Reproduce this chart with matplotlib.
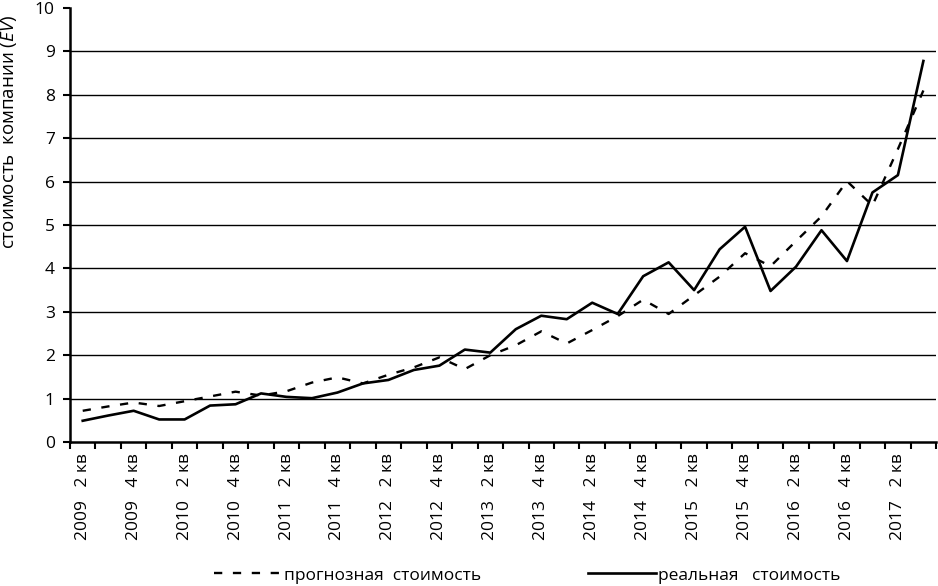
import numpy as np
import matplotlib
matplotlib.use('Agg')
import matplotlib.pyplot as plt

plt.rcParams['font.family'] = ['Open Sans', 'DejaVu Sans']
plt.rcParams['mathtext.fontset'] = 'custom'
plt.rcParams['mathtext.rm'] = 'Open Sans'
plt.rcParams['mathtext.it'] = 'Open Sans:italic'

# квартальные данные 2009 2 кв - 2017 3 кв
real = [0.49, 0.61, 0.72, 0.52, 0.52, 0.84, 0.87, 1.12, 1.04, 1.01, 1.14, 1.35,
        1.43, 1.66, 1.76, 2.13, 2.06, 2.60, 2.91, 2.83, 3.21, 2.95, 3.82, 4.14,
        3.50, 4.44, 4.96, 3.48, 4.04, 4.88, 4.17, 5.75, 6.15, 8.78]
forecast = [0.72, 0.82, 0.91, 0.83, 0.94, 1.05, 1.16, 1.07, 1.17, 1.37, 1.49, 1.35,
            1.55, 1.72, 1.95, 1.68, 2.00, 2.23, 2.55, 2.27, 2.58, 2.90, 3.28, 2.95,
            3.38, 3.81, 4.35, 4.05, 4.63, 5.20, 6.01, 5.45, 6.75, 8.10]
tick_labels = ['2009   2 кв', '2009   4 кв', '2010   2 кв', '2010   4 кв',
               '2011   2 кв', '2011   4 кв', '2012   2 кв', '2012   4 кв',
               '2013   2 кв', '2013   4 кв', '2014   2 кв', '2014   4 кв',
               '2015   2 кв', '2015   4 кв', '2016   2 кв', '2016   4 кв',
               '2017   2 кв']

n = len(real)
x = np.arange(n)

fig = plt.figure(figsize=(9.38, 5.86), dpi=100)
ax = fig.add_axes([0.0746, 0.2457, 0.9234, 0.7406])

ax.plot(x, forecast, color='black', lw=1.7, linestyle=(0, (3.5, 4.5)),
        label='прогнозная  стоимость')
ax.plot(x, real, color='black', lw=1.9, label='реальная   стоимость')

ax.set_xlim(-0.5, n - 0.5)
ax.set_ylim(0, 10)
ax.set_yticks(range(0, 11))
for yv in range(1, 10):
    ax.axhline(yv, color='black', lw=1.0, zorder=0)

ax.set_xticks(x[::2])
ax.set_xticklabels(tick_labels, rotation=90, fontsize=12.5)
ax.set_xticks(np.arange(-0.5, n, 1), minor=True)
ax.tick_params(axis='x', which='major', length=0, pad=8)
ax.tick_params(axis='x', which='minor', length=5, width=1.5, direction='out')
ax.tick_params(axis='y', length=5, width=1.5, labelsize=12.5, pad=6)

for s in ['top', 'right']:
    ax.spines[s].set_visible(False)
for s in ['left', 'bottom']:
    ax.spines[s].set_linewidth(1.8)

fig.text(0.010, 0.775, r'стоимость  компании ($\it{EV}$)', rotation=90,
         ha='center', va='center', fontsize=13.5)

fig.legend(loc='center', bbox_to_anchor=(0.562, 0.018), ncol=2, frameon=False,
           fontsize=12.5, handlelength=3.9, handletextpad=0.1,
           columnspacing=6.2, borderaxespad=0)

plt.savefig('out.png', dpi=100)
